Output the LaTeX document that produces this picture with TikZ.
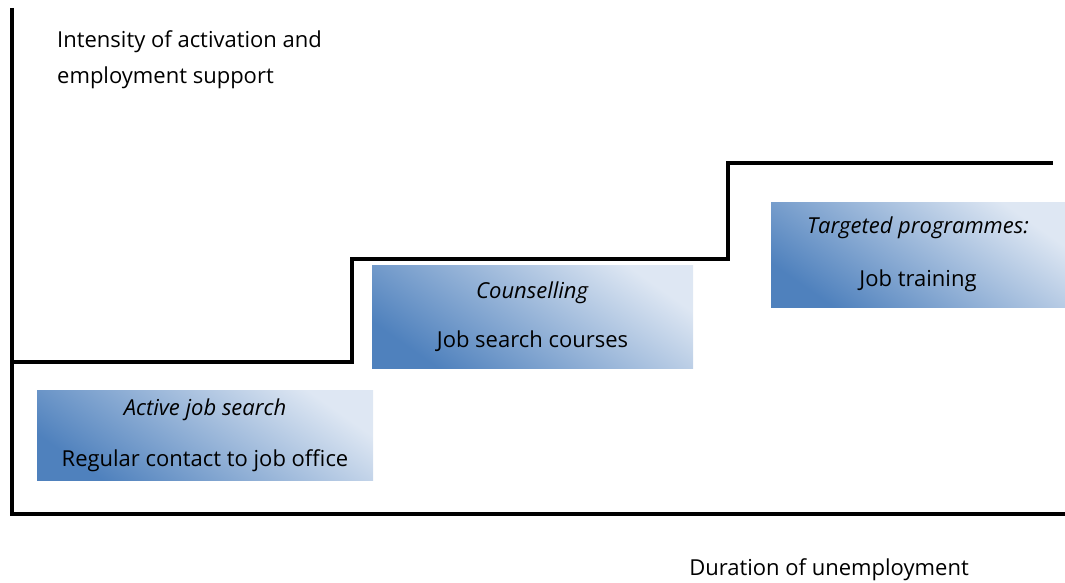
\documentclass[tikz,border=0pt]{standalone}
\usepackage{fontspec}
\setmainfont{Open Sans}
\usetikzlibrary{positioning}

\definecolor{stepdark}{RGB}{79,129,189}
\definecolor{steplight}{RGB}{222,231,243}

\begin{document}
\begin{tikzpicture}[
    x=1pt, y=-1pt,
    font=\fontsize{22}{27}\selectfont,
    axis/.style={
        draw,
        line width=3.5pt
    },
    stair/.style={
        draw,
        line width=4pt,
        line join=miter
    },
    box/.style={
        rectangle,
        top color=steplight,
        bottom color=stepdark,
        shading angle=-35,
        inner sep=0pt,
        align=center
    }
]
    \useasboundingbox (0,0) rectangle (1065,583);

    % Axes
    \coordinate (ytop) at (12,8);
    \coordinate (origin) at (12,514);
    \coordinate (xend) at (1065,514);
    \draw [axis] (ytop) -- (origin) -- (xend);

    % Stairs
    \coordinate (s0) at (12,362);
    \coordinate (s1) at (352,362);
    \coordinate (s2) at (352,259);
    \coordinate (s3) at (728,259);
    \coordinate (s4) at (728,163);
    \coordinate (s5) at (1053,163);
    \draw [stair] (s0) -- (s1) -- (s2) -- (s3) -- (s4) -- (s5);

    % Boxes
    \node [box, minimum width=336pt, minimum height=90pt] (search) at (205,435)
        {\textit{Active job search}\\[24pt]Regular contact to job office};
    \node [box, minimum width=321pt, minimum height=103pt] (counsel) at (532.5,316.5)
        {\textit{Counselling}\\[22pt]Job search courses};
    \node [box, minimum width=294pt, minimum height=105pt] (target) at (918,254.5)
        {\textit{Targeted programmes:}\\[26pt]Job training};

    % Axis labels
    \node [anchor=west, align=left, inner sep=0pt] (ylabel) at (57,60)
        {Intensity of activation and\\[9pt]employment support};
    \node [inner sep=0pt] (xlabel) at (829,570) {Duration of unemployment};

\end{tikzpicture}
\end{document}
